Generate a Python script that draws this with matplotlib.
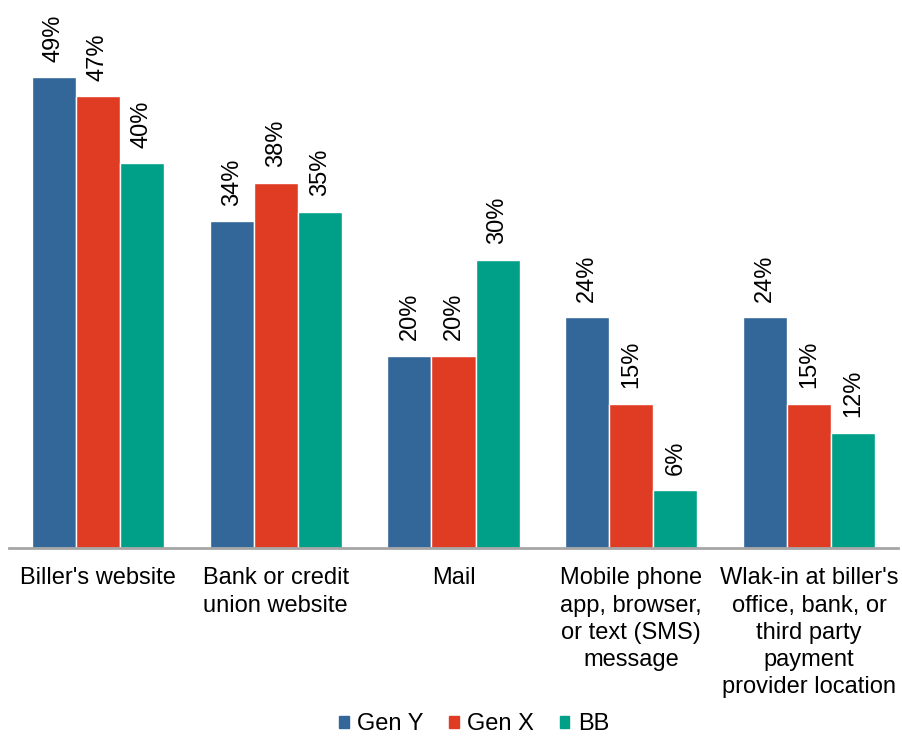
import matplotlib.pyplot as plt
import numpy as np
from matplotlib.patches import Patch

plt.rcParams['font.family'] = ['Liberation Sans', 'DejaVu Sans']

categories = ["Biller's website", "Bank or credit\nunion website", "Mail",
              "Mobile phone\napp, browser,\nor text (SMS)\nmessage",
              "Wlak-in at biller's\noffice, bank, or\nthird party\npayment\nprovider location"]
series = ["Gen Y", "Gen X", "BB"]
gen_y = [49, 34, 20, 24, 24]
gen_x = [47, 38, 20, 15, 15]
bb = [40, 35, 30, 6, 12]
colors = ['#336699', '#e03c24', '#00a088']

fig = plt.figure(figsize=(9.03, 7.4), dpi=100)
ax = fig.add_axes([9 / 903, 192 / 740, 889 / 903, 548 / 740])

x = np.arange(len(categories))
w = 0.2475
for i, (vals, c) in enumerate(zip([gen_y, gen_x, bb], colors)):
    pos = x + (i - 1) * w
    ax.bar(pos, vals, width=w, color=c, edgecolor='white', linewidth=1)
    for p, v in zip(pos, vals):
        ax.text(p, v + 1.6, f'{v}%', rotation=90, ha='center', va='bottom', fontsize=17)

ax.set_xlim(-0.5, 4.5)
ax.set_ylim(0, 57)
ax.set_yticks([])
for s in ['top', 'right', 'left']:
    ax.spines[s].set_visible(False)
ax.spines['bottom'].set_color('#a6a6a6')
ax.spines['bottom'].set_linewidth(2)
ax.set_xticks(x)
ax.set_xticklabels(categories, fontsize=17, linespacing=1.3)
ax.tick_params(axis='x', length=0, pad=14)

handles = [Patch(color=c) for c in colors]
fig.legend(handles, series, loc='lower center', bbox_to_anchor=(0.525, -0.022), ncol=3,
           frameon=False, fontsize=17, handlelength=0.4, handleheight=0.4,
           handletextpad=0.35, columnspacing=1.1)

plt.savefig('out.png')
